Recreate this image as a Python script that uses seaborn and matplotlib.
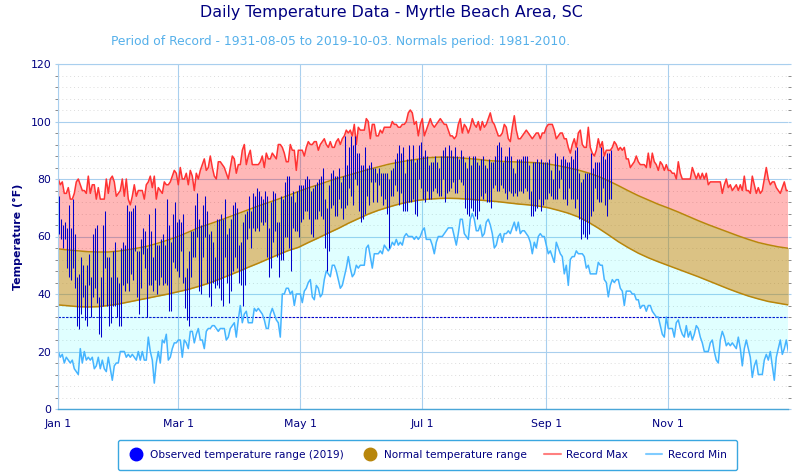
import matplotlib
matplotlib.use('Agg')
import matplotlib.pyplot as plt
from matplotlib.lines import Line2D
import numpy as np
import pandas as pd
import seaborn as sns

# daily records, Jan 1 to Dec 31 (leap year calendar, 366 days)
record_max = [
    80,78,79,75,75,77,73,73,75,79, 80,78,76,76,75,81,75,78,78,73,
    77,73,73,73,80,75,80,81,79,74, 75,76,80,74,80,73,71,74,78,74,
    76,76,76,73,78,79,81,77,81,73, 77,76,75,79,78,78,79,81,83,82,
    78,84,80,80,82,78,83,81,76,82, 80,83,85,87,83,84,88,84,81,80,
    86,86,85,84,82,80,84,88,87,82, 85,85,90,92,85,88,90,85,85,85,
    85,86,88,84,89,87,87,89,88,87, 92,92,91,89,86,86,92,90,90,83,
    90,
    90,90,88,91,93,92,92,93,93,90, 92,93,94,92,91,93,91,91,93,94,
    92,94,95,97,96,97,95,99,92,98, 97,97,97,101,100,94,99,99,95,95,
    97,96,98,98,98,98,100,99,99,98, 98,99,99,100,103,104,103,99,100,95,
    99,101,95,97,99,101,99,98,99,100, 101,100,99,99,97,95,95,94,95,99,
    101,96,99,98,96,98,101,99,98,100, 97,100,98,99,101,103,100,99,97,95,
    95,96,99,98,94,93,98,102,97,94, 94,95,96,97,96,95,94,95,96,96,
    94,96,96,98,99,99,99,97,94,95, 96,96,94,94,91,89,92,94,91,96,
    97,92,91,91,98,91,89,88,90,94, 91,93,88,90,90,90,91,93,92,90,
    91,90,91,87,87,84,85,86,88,86, 85,85,85,84,89,84,89,86,85,83,
    86,85,83,85,83,83,82,82,80,86, 82,80,80,80,80,80,84,82,80,82,
    80,82,80,82,78,79,79,79,79,79, 79,75,78,80,77,78,76,77,78,76,
    78,76,81,76,76,75,81,78,75,77, 75,76,80,84,80,78,79,79,77,76,
    75,77,79,76,76,
]
record_min = [
    20,18,19,16,18,17,16,17,14,13, 12,21,16,20,17,18,17,18,14,15,
    18,14,17,14,13,18,14,10,15,16, 16,20,20,20,18,19,18,19,18,17,
    20,17,20,17,17,25,20,17,9,16, 20,16,24,23,26,17,18,21,23,23,
    24,24,18,24,23,21,27,27,23,26, 28,24,24,21,27,28,28,29,29,28,
    27,28,28,28,24,25,28,29,30,25, 31,36,30,33,34,30,30,30,35,34,
    35,34,33,31,28,28,33,35,33,31, 30,25,40,40,42,42,40,41,36,40,
    40,
    40,37,41,42,44,45,39,38,43,42, 39,40,45,48,47,46,50,50,48,45,
    42,43,46,49,53,49,46,47,50,49, 50,50,50,56,57,53,49,54,54,54,
    55,54,57,56,55,56,58,57,59,57, 58,57,60,61,60,60,60,59,60,59,
    60,62,63,59,59,59,57,54,58,60, 60,60,61,62,63,63,63,60,57,61,
    66,66,61,60,59,66,68,66,62,62, 64,60,61,65,66,64,61,56,57,60,
    61,58,61,61,62,61,63,65,62,65, 61,62,62,61,60,58,54,58,56,60,
    61,60,60,57,54,
    55,53,51,58,56,54,53,47,50,43, 52,53,53,55,54,54,54,53,49,50,
    47,47,47,47,51,50,50,45,44,39, 43,45,44,45,45,42,41,36,41,41,
    41,40,40,38,38,35,36,36,34,36, 36,34,33,32,32,29,26,25,32,28,
    28,28,25,30,31,28,26,25,29,25, 27,24,26,29,28,25,23,20,20,20,
    23,24,20,17,16,24,27,25,22,23, 22,23,22,21,25,21,15,21,24,21,
    18,11,15,17,12,12,12,17,19,17, 20,15,10,18,21,24,19,21,24,20,
]

# normals read every five days
normal_days = list(range(0, 366, 5))
normal_high = [
    55.7,55.3,55,54.7,54.6,54.6,54.9,55.4,56,56.7, 57.7,58.8,60,61.5,63,64.2,65.4,66.7,68,69.3,
    70.6,71.8,73,74.3,75.6,76.9,78,79.2,80.3,81.3, 82.3,83.3,84.2,85.1,85.8,86.4,86.9,87.4,87.6,87.6,
    87.4,87.1,86.8,86.4,86.2,86,85.9,85.8,85.6,85.2, 84.6,83.9,83.1,82.1,80.9,79.4,77.7,75.9,74.2,72.7,
    71.2,69.9,68.5,67,65.5,64.1,62.8,61.5,60.2,59, 57.9,57.1,56.4,55.9,
]
normal_low = [
    36.2,35.9,35.6,35.5,35.6,36,36.5,37.2,37.9,38.6, 39.3,40,40.8,41.6,42.6,43.7,45,46.4,47.8,49.3,
    50.7,52.2,53.7,55.1,56.2,57.9,59.5,61.2,62.8,64.6, 66.2,67.8,69.1,70.2,71.2,72,72.6,73,73.2,73.3,
    73.2,73,72.7,72.4,72.1,71.7,71.3,71,70.6,70, 69.1,68.1,66.8,65,62.9,60.6,58.2,56.1,54.2,52.6,
    51.2,49.9,48.6,47.3,46,44.6,43.2,41.8,40.5,39.3, 38.3,37.4,36.8,36.2,
]

# observed 2019 daily high and low, Jan 1 to Oct 3
obs_high = [
    74,66,64,65,63,71,63,73,61,46, 47,53,50,43,50,54,46,61,63,64,
    39,46,64,69,53,53,46,55,58,46, 44,56,58,57,71,69,69,70,71,55,
    55,59,63,62,56,68,62,53,70,57, 57,59,61,57,73,64,58,68,72,65,
    66,65,68,46,49,55,62,62,71,75, 66,64,71,74,69,61,62,58,53,66,
    66,68,66,73,61,63,66,71,72,70, 57,58,65,68,69,74,69,75,74,77,
    76,74,73,76,74,63,72,76,75,65, 65,74,73,79,81,81,74,76,72,76,
    78,78,78,80,81,80,76,77,78,79, 80,81,84,73,70,78,82,83,81,81,
    84,79,81,95,85,91,95,92,95,89, 89,85,85,91,84,85,86,84,84,82,
    84,82,82,82,82,80,83,84,87,89, 92,89,91,82,87,92,87,92,86,87,
    92,93,88,90,88,85,86,86,88,86, 84,88,90,91,88,92,90,88,91,88,
    87,90,88,86,84,88,85,88,88,86, 85,87,88,85,84,87,86,86,88,92,
    93,91,86,88,88,91,88,84,82,87, 87,87,88,88,88,85,76,86,86,87,
    86,87,86,86,86,87,83,80,89,88, 83,87,88,87,86,86,88,87,90,91,
    82,79,80,82,82,82,89,84,86,86, 86,91,88,87,89,89,90,
]
obs_low = [
    61,59,56,59,49,46,45,49,42,29, 28,33,39,31,29,43,32,39,42,37,
    26,25,36,49,36,29,30,36,36,32, 29,29,43,41,44,41,47,45,55,39,
    33,42,54,49,32,43,43,41,45,40, 43,46,43,44,43,34,34,51,49,48,
    46,55,44,35,31,29,46,53,53,60, 41,40,53,60,44,39,36,44,42,43,
    42,38,36,53,44,37,41,48,53,49, 44,43,36,43,59,63,56,63,62,63,
    62,65,64,65,53,46,49,58,62,53, 46,52,52,60,60,56,48,63,62,62,
    60,65,66,69,69,66,61,60,66,66, 69,67,66,56,48,55,70,71,67,67,
    73,70,66,70,71,77,74,71,80,78, 69,65,66,68,74,71,79,72,79,72,
    78,74,71,73,68,56,74,74,78,76, 71,75,69,69,69,72,72,73,68,67,
    80,77,73,72,76,73,73,76,77,75, 74,74,80,72,75,76,77,79,75,75,
    80,79,78,70,68,67,70,69,67,66, 69,74,73,75,72,72,70,77,78,76,
    76,78,77,75,73,76,75,74,75,74, 76,76,75,77,76,73,67,67,69,70,
    73,69,71,73,73,75,74,73,73,73, 77,80,73,73,71,77,73,73,70,73,
    66,59,61,60,59,61,67,69,77,73, 72,72,77,71,67,73,73,
]

freezing = 32
tick_days = [0, 60, 121, 182, 244, 305]
tick_labels = ['Jan 1', 'Mar 1', 'May 1', 'Jul 1', 'Sep 1', 'Nov 1']

NAVY = '#000080'
GRID = '#a9cfee'
GOLD = '#b8860b'
BAR = '#0000cc'
RED = '#ff3333'
SKY = '#45b4ff'

sns.set_style('white')
plt.rcParams['font.family'] = ['DejaVu Sans']

records = pd.DataFrame({'day': np.arange(len(record_max)), 'max': record_max, 'min': record_min})
normals = pd.DataFrame({'day': normal_days, 'high': normal_high, 'low': normal_low})
observed = pd.DataFrame({'day': np.arange(len(obs_high)), 'high': obs_high, 'low': obs_low})

fig = plt.figure(figsize=(8.1, 4.76), dpi=100)
ax = fig.add_axes([58.3 / 810, 1 - 409 / 476, 730 / 810, 345 / 476])

ax.axhline(freezing, color=BAR, ls=(0, (2.2, 1.2)), lw=0.8, zorder=0.8)

# shaded bands between records and normals
ax.fill(np.r_[records['day'], normals['day'][::-1]], np.r_[records['max'], normals['high'][::-1]],
        color='red', alpha=0.28, lw=0)
ax.fill(np.r_[records['day'], normals['day'][::-1]], np.r_[records['min'], normals['low'][::-1]],
        color='cyan', alpha=0.12, lw=0)
ax.fill_between(normals['day'], normals['low'], normals['high'], color=GOLD, alpha=0.5, lw=0, zorder=1.2)

sns.lineplot(data=normals, x='day', y='high', color=GOLD, lw=1.1, ax=ax, legend=False, zorder=1.5)
sns.lineplot(data=normals, x='day', y='low', color=GOLD, lw=1.1, ax=ax, legend=False, zorder=1.5)
sns.lineplot(data=records, x='day', y='max', color=RED, lw=1.1, ax=ax, legend=False)
sns.lineplot(data=records, x='day', y='min', color=SKY, lw=1.1, ax=ax, legend=False)

ax.vlines(observed['day'] + 0.5, observed['low'], observed['high'], color=BAR, lw=0.75, zorder=3, snap=True)

ax.set_xlim(0, 365)
ax.set_ylim(0, 120)
ax.set_xticks(tick_days)
ax.set_xticklabels(tick_labels)
ax.set_yticks(range(0, 121, 20))
ax.set_yticks(range(0, 121, 4), minor=True)
ax.set_axisbelow(True)
ax.grid(which='major', color=GRID, lw=0.8)
ax.grid(which='minor', axis='y', color='#dcdcdc', ls=(0, (1, 3)), lw=0.7)

ax.tick_params(axis='x', which='major', length=6, width=0.8, color=GRID, labelsize=7.8, labelcolor=NAVY, pad=1.5)
ax.tick_params(axis='y', which='major', length=2, width=0.8, color=GRID, labelsize=7.8, labelcolor=NAVY,
               pad=3, right=True, left=True)
ax.tick_params(axis='y', which='minor', length=2, width=0.7, color='#8a8a8a', left=True, right=True)

for side in ['left', 'top']:
    ax.spines[side].set_color(GRID)
    ax.spines[side].set_linewidth(0.8)
ax.spines['right'].set_visible(False)
ax.spines['bottom'].set_color('#4aa6d8')
ax.spines['bottom'].set_linewidth(1.0)

ax.set_xlabel('')
ax.set_ylabel('Temperature (°F)', color=NAVY, fontsize=7.9, fontweight='bold', labelpad=5.5)

fig.text(391 / 810, 1 - 13 / 476, 'Daily Temperature Data - Myrtle Beach Area, SC', color=NAVY,
         fontsize=11.4, ha='center', va='center')
fig.text(340.5 / 810, 1 - 42 / 476, 'Period of Record - 1931-08-05 to 2019-10-03. Normals period: 1981-2010.',
         color='#55b0ea', fontsize=8.9, ha='center', va='center')

handles = [
    Line2D([], [], ls='', marker='o', ms=9, color='#0000ff'),
    Line2D([], [], ls='', marker='o', ms=9, color=GOLD),
    Line2D([], [], color='#ff8080', lw=1.5),
    Line2D([], [], color='#80ccff', lw=1.5),
]
labels = ['Observed temperature range (2019)', 'Normal temperature range', 'Record Max', 'Record Min']
leg = fig.legend(handles, labels, loc='center', bbox_to_anchor=(427.5 / 810, 1 - 455 / 476), ncol=4,
                 fontsize=7.57, labelcolor=NAVY, frameon=True, fancybox=True, edgecolor='#3aa7e0',
                 facecolor='white', framealpha=1, handlelength=1.55, handletextpad=0.55, columnspacing=1.7,
                 borderpad=0.95)
leg.get_frame().set_linewidth(1.0)

fig.savefig('out.png', dpi=100)
